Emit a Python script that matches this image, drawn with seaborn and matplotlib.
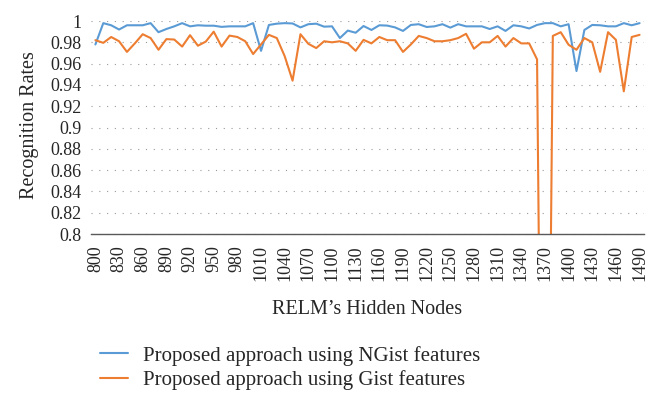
import numpy as np
import pandas as pd
import seaborn as sns
import matplotlib
matplotlib.use("Agg")
import matplotlib.pyplot as plt
from matplotlib.ticker import FuncFormatter

# Categories (hidden nodes)
nodes = list(range(800, 1500, 10))

# Recognition rates
ngist = [0.978, 0.998, 0.996, 0.992, 0.996, 0.996, 0.996, 0.998, 0.9895, 0.9925,
         0.995, 0.998, 0.995, 0.996, 0.9956, 0.9956, 0.9945, 0.995, 0.995, 0.995,
         0.998, 0.972, 0.9963, 0.9975, 0.998,
         0.9977, 0.994, 0.997, 0.9975, 0.9947, 0.995, 0.984, 0.991, 0.989, 0.9953,
         0.9916, 0.996, 0.9957, 0.994, 0.9907, 0.9963, 0.997, 0.9944, 0.995, 0.997,
         0.9938, 0.997, 0.995,
         0.995, 0.995, 0.9925, 0.995, 0.9907, 0.996, 0.995, 0.993, 0.9963, 0.998,
         0.998, 0.995, 0.997, 0.953, 0.9916, 0.9963, 0.996, 0.995, 0.995, 0.998,
         0.996, 0.998]
gist = [0.982, 0.9795, 0.985, 0.981, 0.971, 0.979, 0.9876, 0.984, 0.973, 0.983,
        0.9826, 0.976, 0.9867, 0.9768, 0.9807, 0.990, 0.976, 0.9863, 0.985, 0.981,
        0.969, 0.978, 0.987, 0.984, 0.967,
        0.944, 0.9876, 0.9786, 0.9746, 0.981, 0.980, 0.981, 0.979, 0.972, 0.9823,
        0.979, 0.985, 0.982, 0.982, 0.971, 0.978, 0.986, 0.984, 0.981, 0.981,
        0.982, 0.984, 0.988,
        0.974, 0.980, 0.980, 0.986, 0.976, 0.984, 0.979, 0.979, 0.964, 0.2,
        0.986, 0.9895, 0.9777, 0.973, 0.984, 0.980, 0.9523, 0.9895, 0.9823, 0.934,
        0.985, 0.987]

series_names = ["Proposed approach using NGist features",
                "Proposed approach using Gist features"]
colors = ["#5B9BD5", "#ED7D31"]
y_ticks = [0.8, 0.82, 0.84, 0.86, 0.88, 0.9, 0.92, 0.94, 0.96, 0.98, 1.0]
x_ticks = nodes[::3]

df = pd.DataFrame({
    "nodes": nodes + nodes,
    "rate": ngist + gist,
    "series": [series_names[0]] * len(nodes) + [series_names[1]] * len(nodes),
})

sns.set_style("white")
plt.rcParams["font.family"] = ["Liberation Serif", "DejaVu Serif"]
text_color = "#262626"

fig = plt.figure(figsize=(6.58, 4.12), dpi=100)
ax = fig.add_axes([0.139, 0.432, 0.839, 0.517])

sns.lineplot(data=df, x="nodes", y="rate", hue="series", palette=colors,
             hue_order=series_names, ax=ax, linewidth=1.5, legend=False)

ax.set_xlim(nodes[0] - 5, nodes[-1] + 5)
ax.set_ylim(0.8, 1.0)
ax.set_yticks(y_ticks)
ax.yaxis.set_major_formatter(FuncFormatter(lambda v, p: f"{v:.2f}".rstrip("0").rstrip(".")))
ax.set_xticks(x_ticks)
ax.set_xticklabels([str(v) for v in x_ticks], rotation=90)
ax.tick_params(axis="both", length=0, labelsize=13, colors=text_color)
ax.tick_params(axis="y", pad=7)
ax.tick_params(axis="x", pad=8)

ax.yaxis.grid(True, color="#9a9a9a", linestyle=(0, (1, 6)), linewidth=0.8)
ax.xaxis.grid(False)
for s in ["left", "top", "right"]:
    ax.spines[s].set_visible(False)
ax.spines["bottom"].set_color("#595959")
ax.spines["bottom"].set_linewidth(1.0)
ax.spines["bottom"].set_zorder(5)

ax.set_xlabel("RELM\u2019s Hidden Nodes", fontsize=14.5, color=text_color)
ax.xaxis.set_label_coords(0.5, -0.355)
ax.xaxis.label.set_va("center")
ax.set_ylabel("Recognition Rates", fontsize=14.5, color=text_color)
ax.yaxis.set_label_coords(-0.112, 0.51)
ax.yaxis.label.set_va("center")

handles = ax.get_lines()[:2]
fig.legend(handles, series_names, loc="center left", bbox_to_anchor=(0.152, 0.107),
           frameon=False, fontsize=15, handlelength=1.35, handletextpad=0.7,
           labelspacing=0.22, borderpad=0, borderaxespad=0, labelcolor=text_color)

fig.savefig("out.png", dpi=100)
